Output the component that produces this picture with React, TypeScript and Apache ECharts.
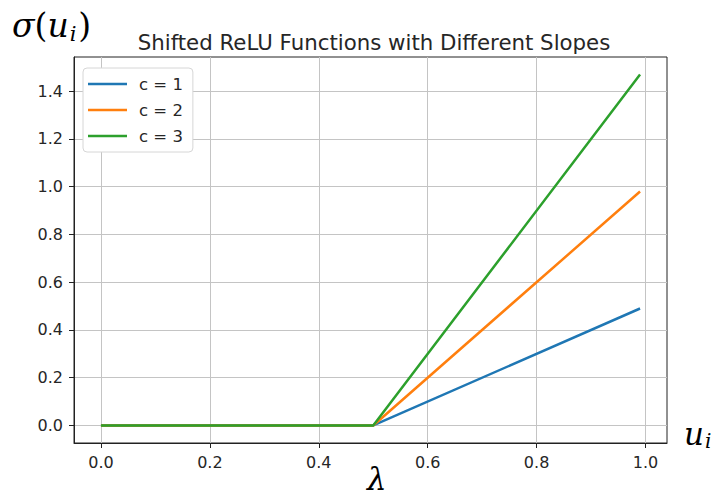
import React, { useEffect, useRef } from "react";
import * as echarts from "echarts";

const xTicks = [0, 0.2, 0.4, 0.6, 0.8, 1.0];
const yTicks = [0, 0.2, 0.4, 0.6, 0.8, 1.0, 1.2, 1.4];
const seriesNames = ["c = 1", "c = 2", "c = 3"];
const colors = ["#1f77b4", "#ff7f0e", "#2ca02c"];
const c1: [number, number][] = [[0, 0], [0.5, 0], [0.99, 0.49]];
const c2: [number, number][] = [[0, 0], [0.5, 0], [0.99, 0.98]];
const c3: [number, number][] = [[0, 0], [0.5, 0], [0.99, 1.47]];
const seriesData = [c1, c2, c3];
const xRange = [-0.0495, 1.0395];
const yRange = [-0.0735, 1.5435];

export default function App() {
  const ref = useRef<HTMLDivElement>(null);
  useEffect(() => {
    if (!ref.current) return;
    const chart = echarts.init(ref.current, undefined, { renderer: "svg" });
    const tickFont = { fontFamily: "DejaVu Sans", fontSize: 16, color: "#262626" };
    const mathFont = "DejaVu Serif";
    chart.setOption({
      animation: false,
      backgroundColor: "#fff",
      title: {
        text: "Shifted ReLU Functions with Different Slopes",
        left: 369,
        textAlign: "center",
        top: 27,
        textStyle: { fontFamily: "DejaVu Sans", fontSize: 21.3, fontWeight: "normal", color: "#262626" },
      },
      legend: {
        orient: "vertical",
        left: 83,
        top: 68,
        data: seriesNames,
        icon: "rect",
        itemWidth: 39,
        itemHeight: 2.5,
        itemGap: 8,
        padding: [7, 10, 7, 5],
        backgroundColor: "#fff",
        borderColor: "#d6d6d6",
        borderWidth: 1,
        borderRadius: 4,
        textStyle: { fontFamily: "DejaVu Sans", fontSize: 16.5, lineHeight: 18, color: "#262626", padding: [0, 0, 0, 7] },
      },
      grid: {
        left: 74,
        right: 48,
        top: 57,
        bottom: 53,
        show: true,
        borderColor: "#222",
        borderWidth: 1,
        backgroundColor: "#fff",
      },
      xAxis: {
        type: "value",
        min: xRange[0],
        max: xRange[1],
        axisLine: { show: true, onZero: false, lineStyle: { color: "#222" } },
        axisTick: { show: true, customValues: xTicks, length: 5, lineStyle: { color: "#222" } },
        axisLabel: { customValues: xTicks, margin: 11, formatter: (v: number) => v.toFixed(1), ...tickFont },
        splitLine: { show: true, lineStyle: { color: "#c4c4c4", width: 1 } },
      },
      yAxis: {
        type: "value",
        min: yRange[0],
        max: yRange[1],
        axisLine: { show: true, onZero: false, lineStyle: { color: "#222" } },
        axisTick: { show: true, customValues: yTicks, length: 5, lineStyle: { color: "#222" } },
        axisLabel: { customValues: yTicks, margin: 11, formatter: (v: number) => v.toFixed(1), ...tickFont },
        splitLine: { show: true, lineStyle: { color: "#c4c4c4", width: 1 } },
      },
      series: seriesNames.map((name, i) => ({
        name,
        type: "line",
        data: seriesData[i],
        symbol: "none",
        color: colors[i],
        lineStyle: { width: 2.5, color: colors[i] },
      })),
      graphic: [
        {
          type: "text",
          left: 12,
          top: 9,
          style: {
            text: "{a|σ}{p|(}{a|u}{s|i}{p|)}",
            rich: {
              a: { fontFamily: mathFont, fontStyle: "italic", fontSize: 33, fill: "#000" },
              p: { fontFamily: mathFont, fontSize: 33, fill: "#000" },
              s: { fontFamily: mathFont, fontStyle: "italic", fontSize: 21, fill: "#000", padding: [16, 2, 0, 1] },
            },
          },
        },
        {
          type: "text",
          left: 684,
          top: 418,
          style: {
            text: "{a|u}{s|i}",
            rich: {
              a: { fontFamily: mathFont, fontStyle: "italic", fontSize: 31, fill: "#000" },
              s: { fontFamily: mathFont, fontStyle: "italic", fontSize: 20, fill: "#000", padding: [15, 0, 0, 1] },
            },
          },
        },
        {
          type: "text",
          left: 367,
          top: 463,
          style: {
            text: "λ",
            fontFamily: mathFont,
            fontStyle: "italic",
            fontSize: 31,
            lineHeight: 31,
            fill: "#000",
          },
        },
      ],
    });
    return () => chart.dispose();
  }, []);
  return <div ref={ref} style={{ position: "fixed", left: 0, top: 0, width: 715, height: 496 }} />;
}
